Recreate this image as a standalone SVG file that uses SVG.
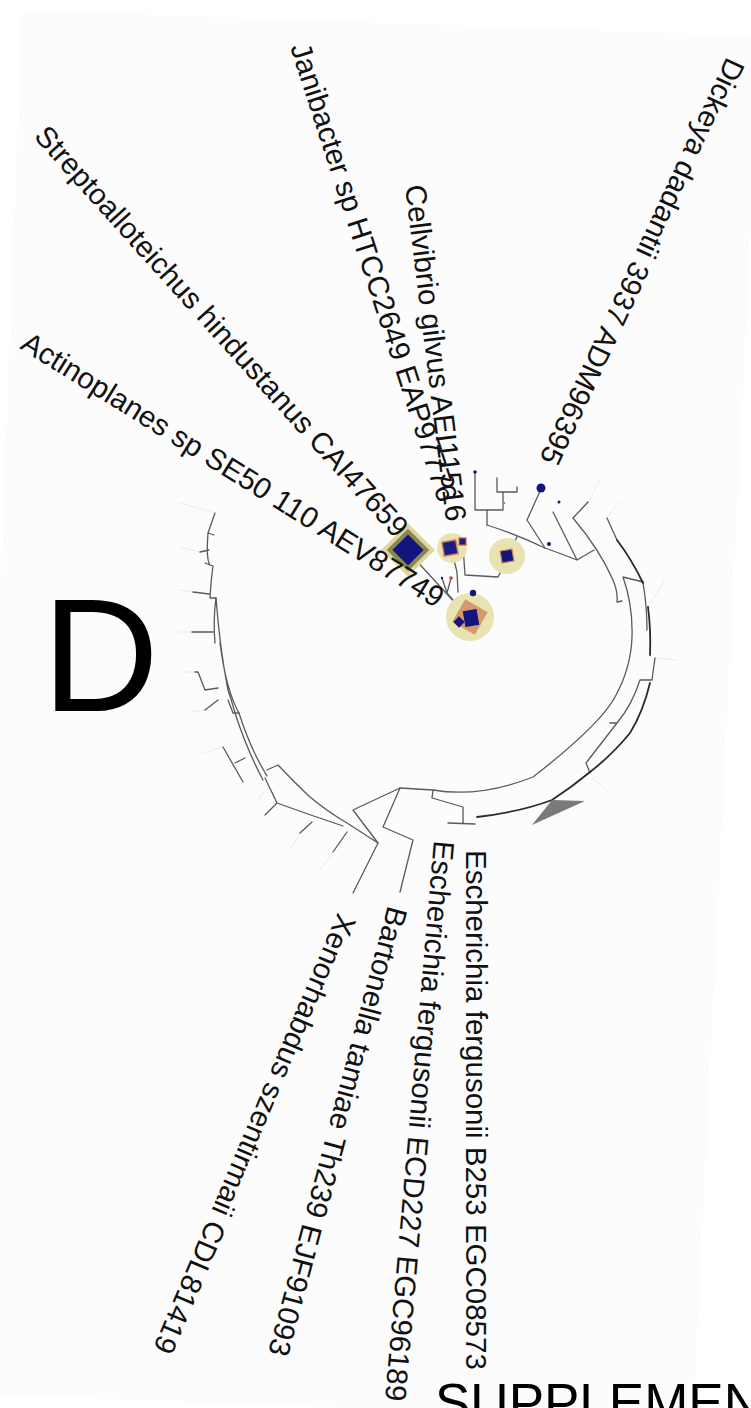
<svg xmlns="http://www.w3.org/2000/svg" width="751" height="1408" viewBox="0 0 751 1408">
<style>
.lbl{font-family:"Liberation Sans",Arial,Helvetica,sans-serif;font-size:29.5px;fill:#111}
.br{fill:none;stroke:#5a5a5a;stroke-width:1.3;stroke-linecap:round;stroke-linejoin:round}
.dk{fill:none;stroke:#2a2a2a;stroke-width:1.8;stroke-linecap:round}
.ft{fill:none;stroke:#ececec;stroke-width:1}
.halo{fill:#e9e3b3}
.navy{fill:#14147e}
.org{fill:#c9824f}
</style>
<rect width="751" height="1408" fill="#ffffff"/>
<polygon points="22,10 760,36 693,1420 -30,1394" fill="#fcfcfc"/>

<g id="connectors">
  <!-- faint leader lines -->
  <path class="ft" d="M180,503 L213,512 M180,547 L200,552 M178,590 L193,592 M178,632 L192,632 M180,672 L195,672 M190,712 L205,710 M203,753 L223,747 M258,800 L265,790 M290,850 L300,833 M320,870 L333,852 M600,480 L588,502 M620,500 L607,518 M665,580 L648,607 M678,660 L655,658 M606,790 L592,778"/>
  <!-- top cluster -->
  <path class="br" d="M475,472 L475,510 L503,510 M503,510 L503,492 M497,478 L497,492 L517,492 L517,487 M487,510 L487,525"/>
  <path class="br" d="M487,525 Q518,535 545,548 Q562,554 577,560 M577,560 L594,550 M577,560 L553,512"/>
  <path class="br" d="M541,489 L527,520 L545,548"/>
  <!-- center links -->
  <path class="br" d="M412,556 L458,606 M453,556 L457,572 L458,592 M463,546 L465,575 L498,577 L507,560 M507,557 L517,537 M442,578 L447,593 L451,578 M447,593 L460,608 M473,593 L470,606"/>
  <!-- right side arcs -->
  <path class="br" d="M588,502 L573,518 Q600,550 613,580 Q618,592 617,602 L622,601"/>
  <path class="br" d="M623,577 L643,582 M623,577 Q633,605 632,637 Q631,668 615,697 Q600,725 533,777 Q480,798 433,790 L400,788"/>
  <path class="br" d="M607,518 L617,540 M643,583 Q647,606 647,630"/>
  <path class="dk" d="M617,540 Q632,560 643,583 M648,607 Q651,630 650,655"/>
  <path class="br" d="M655,658 L652,680 L640,680 Q632,705 617,723 L610,723 M617,723 Q600,745 586,763 L590,773"/>
  <path class="dk" d="M650,683 Q643,712 630,733 Q612,755 590,772 Q572,787 552,800 Q520,812 477,817"/>
  <!-- bottom brackets -->
  <path class="br" d="M433,790 L432,798 L463,807 L463,823 M448,823 L475,824"/>
  <path class="br" d="M400,788 L383,827 L413,840 L400,892 M400,788 L353,810 L378,843 L353,893"/>
  <!-- left side -->
  <path class="br" d="M215,513 L208,533 L214,535 M208,533 Q206,560 210,565 M200,552 L209,550 M205,563 L213,566 Q211,580 210,598 M193,592 L209,594 M210,598 L216,598 Q213,620 215,643 M192,632 L213,632 M195,672 L198,672 L205,690 L218,688 M205,710 L218,700"/>
  <path class="br" d="M216,598 Q220,650 228,690 Q233,705 235,713 Q247,750 263,780 M220,643 Q226,690 239,713 Q250,748 267,776"/>
  <path class="br" d="M228,700 L233,713 L239,713 M223,747 L243,782 M235,763 L245,758"/>
  <path class="br" d="M267,770 L278,765 Q295,783 310,797 Q328,812 347,823 M265,778 L277,803 L265,815 M277,803 Q310,815 343,826 M300,833 L312,822 M333,852 L347,832 M347,823 L378,843"/>
</g>

<polygon id="triangle" points="532,825 552,800 585,801" fill="#7a7a7a"/>

<g id="node-streptoalloteichus">
  <rect x="389" y="531" width="38" height="38" transform="rotate(45 408 550)" fill="#ddd6a0"/>
  <rect x="393" y="535" width="30" height="30" transform="rotate(45 408 550)" fill="#8a8650"/>
  <rect x="397" y="539" width="22" height="22" transform="rotate(45 408 550)" class="navy"/>
</g>
<g id="node-janibacter">
  <circle cx="452" cy="548" r="15" class="halo"/>
  <rect x="443" y="541" width="14" height="14" transform="rotate(-10 450 548)" fill="#1c1c86" stroke="#c9824f" stroke-width="1.5"/>
  <rect x="459" y="538" width="7" height="7" fill="#1c1c86" stroke="#d0603a" stroke-width="1.2"/>
</g>
<g id="node-cellvibrio">
  <circle cx="507" cy="556" r="18" class="halo"/>
  <rect x="501" y="550" width="12" height="12" transform="rotate(-10 507 556)" fill="#14147e" stroke="#c9824f" stroke-width="1.2"/>
</g>
<g id="node-cluster">
  <circle cx="470" cy="617" r="24" class="halo"/>
  <rect x="457" y="604" width="26" height="26" transform="rotate(30 470 617)" fill="#d49a6c"/>
  <rect x="464" y="610" width="14" height="16" transform="rotate(-10 471 618)" class="navy"/>
  <rect x="455" y="618" width="8" height="8" transform="rotate(45 459 622)" class="navy"/>
  <circle cx="473" cy="593" r="3.2" class="navy"/>
</g>
<g id="leaf-dots">
  <circle cx="541" cy="488" r="4.5" class="navy"/>
  <circle cx="549" cy="544" r="2" class="navy"/>
  <circle cx="559" cy="502" r="1.5" class="navy"/>
  <circle cx="475" cy="472" r="1.8" class="navy"/>
  <circle cx="451" cy="578" r="1.8" fill="#b0503a"/>
  <circle cx="442" cy="578" r="1.2" class="navy"/>
  <circle cx="504" cy="503" r="1.2" fill="#d07030"/>
</g>

<g id="labels">
  <text class="lbl" transform="translate(727,56) rotate(115)">Dickeya dadantii 3937 ADM96395</text>
  <text class="lbl" transform="translate(405,186) rotate(83)">Cellvibrio gilvus AEI11516</text>
  <text class="lbl" transform="translate(290,47) rotate(72)">Janibacter sp HTCC2649 EAP97776</text>
  <text class="lbl" transform="translate(33,137) rotate(48)">Streptoalloteichus hindustanus CAI47659</text>
  <text class="lbl" transform="translate(19,348) rotate(32)">Actinoplanes sp SE50 110 AEV87749</text>
  <text class="lbl" transform="translate(466,850) rotate(90)">Escherichia fergusonii B253 EGC08573</text>
  <text class="lbl" transform="translate(434,840) rotate(95)">Escherichia fergusonii ECD227 EGC96189</text>
  <text class="lbl" transform="translate(388,905) rotate(105)">Bartonella tamiae Th239 EJF91093</text>
  <text class="lbl" transform="translate(338,912) rotate(113)">Xenorhabdus szentirmaii CDL81419</text>
</g>
<text x="42" y="711" font-family="Liberation Sans, Arial, sans-serif" font-size="162" fill="#000">D</text>
<text x="435" y="1421" font-family="Liberation Sans, Arial, sans-serif" font-size="53" fill="#000">SUPPLEMEN</text>
</svg>
